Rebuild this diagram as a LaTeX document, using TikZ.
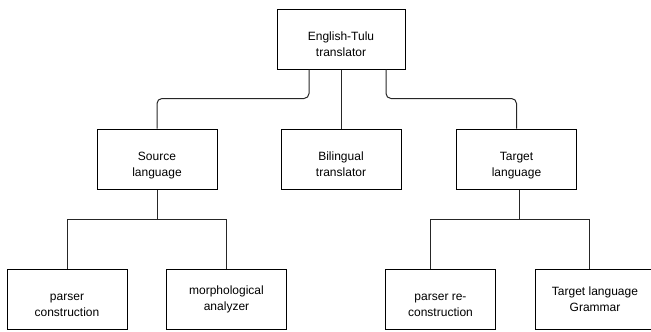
\documentclass[tikz,border=0pt]{standalone}
\usepackage{fontspec}
\setmainfont{Liberation Sans}
\begin{document}
\begin{tikzpicture}[x=1pt, y=-1pt,
    box/.style={shape=rectangle, draw=black, line width=1pt, minimum width=120pt,
        minimum height=60pt, align=center, inner sep=2pt, font=\fontsize{12}{16}\selectfont},
    low/.style={text height=37pt, text depth=3pt}, % text sits a bit below the middle
    link/.style={draw=black!85, line width=1pt}]
    \useasboundingbox (0,0) rectangle (651,332);

    \node[box, low, minimum width=128pt] (top) at (341,39) {English-Tulu\\translator};

    \node[box, low] (src) at (157,159) {Source\\language};
    \node[box, low] (bil) at (341,159) {Bilingual\\translator};
    \node[box, low] (tgt) at (516.5,159) {Target\\language};

    \node[box, low] (pc) at (67,299) {parser\\construction};
    \node[box] (ma) at (226.5,299) {morphological\\analyzer};
    \node[box, low, minimum width=110pt] (prc) at (440.5,299) {parser re-\\construction};
    \node[box] (tlg) at (595,299) {Target language\\Grammar};

    \draw[link, rounded corners=5pt] ([xshift=-32pt]top.south) -- ++(0,29) -| (src.north);
    \draw[link, rounded corners=5pt] ([xshift=45pt]top.south) -- ++(0,29) -| (tgt.north);
    \draw[link] (top.south) -- (bil.north);

    \draw[link] (src.south) -- ++(0,30) -| (pc.north);
    \draw[link] (src.south) ++(0,30) -| (ma.north);

    \draw[link] ([xshift=3pt]tgt.south) -- ++(0,30) -| ([xshift=-10pt]prc.north);
    \draw[link] ([xshift=3pt]tgt.south) ++(0,30) -| ([xshift=-6pt]tlg.north);
\end{tikzpicture}
\end{document}
